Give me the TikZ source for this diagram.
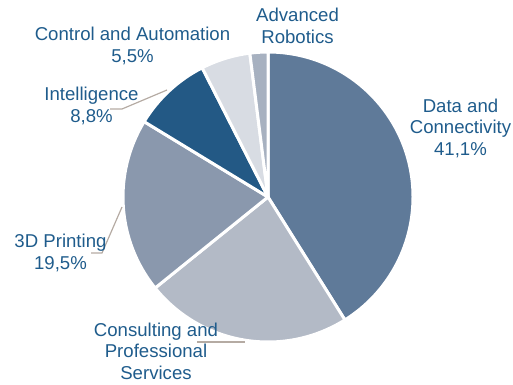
\documentclass[tikz,border=0pt]{standalone}
\usepackage{fontspec}
\setmainfont{Liberation Sans}
\definecolor{txt}{RGB}{31,92,140}
\definecolor{lead}{RGB}{181,171,163}
\definecolor{cData}{RGB}{95,122,153}
\definecolor{cCons}{RGB}{179,186,198}
\definecolor{cPrint}{RGB}{138,152,173}
\definecolor{cIntel}{RGB}{35,89,133}
\definecolor{cCtrl}{RGB}{216,220,227}
\definecolor{cAdv}{RGB}{167,177,192}
\begin{document}
\begin{tikzpicture}[x=1pt,y=1pt,
  slice/.style={draw=white,line width=3pt,line join=round},
  lbl/.style={text=txt,align=center,inner sep=0pt,anchor=base,font=\fontsize{18.6}{21.3}\selectfont},
  leader/.style={draw=lead,line width=1.2pt}]
\useasboundingbox (0,0) rectangle (513,384);
\coordinate (c) at (268,187);
\def\R{145}
\fill[cData,slice] (c) -- ++(90:\R) arc[start angle=90,end angle=-57.96,radius=\R] -- cycle;
\fill[cCons,slice] (c) -- ++(-57.96:\R) arc[start angle=-57.96,end angle=-141.12,radius=\R] -- cycle;
\fill[cPrint,slice] (c) -- ++(-141.12:\R) arc[start angle=-141.12,end angle=-211.32,radius=\R] -- cycle;
\fill[cIntel,slice] (c) -- ++(-211.32:\R) arc[start angle=-211.32,end angle=-243,radius=\R] -- cycle;
\fill[cCtrl,slice] (c) -- ++(-243:\R) arc[start angle=-243,end angle=-262.8,radius=\R] -- cycle;
\fill[cAdv,slice] (c) -- ++(-262.8:\R) arc[start angle=-262.8,end angle=-270,radius=\R] -- cycle;
% leader lines
\coordinate (li1) at (167,294);
\coordinate (li2) at (122,275);
\coordinate (li3) at (110,275);
\draw[leader] (li1) -- (li2) -- (li3);
\coordinate (lp1) at (122,177);
\coordinate (lp2) at (102,131);
\coordinate (lp3) at (91,131);
\draw[leader] (lp1) -- (lp2) -- (lp3);
\coordinate (lc1) at (197,42);
\coordinate (lc2) at (245,42);
\draw[leader] (lc1) -- (lc2);
% labels
\node[lbl] (adv) at (297.5,341) {Advanced\\Robotics};
\node[lbl] (ctrl) at (132.5,322) {Control and Automation\\5,5\%};
\node[lbl] (intel) at (91.5,262) {Intelligence\\8,8\%};
\node[lbl] (data) at (460.5,229) {Data and\\Connectivity\\41,1\%};
\node[lbl] (print) at (60.5,115) {3D Printing\\19,5\%};
\node[lbl] (cons) at (156,5) {Consulting and\\Professional\\Services};
\end{tikzpicture}
\end{document}
